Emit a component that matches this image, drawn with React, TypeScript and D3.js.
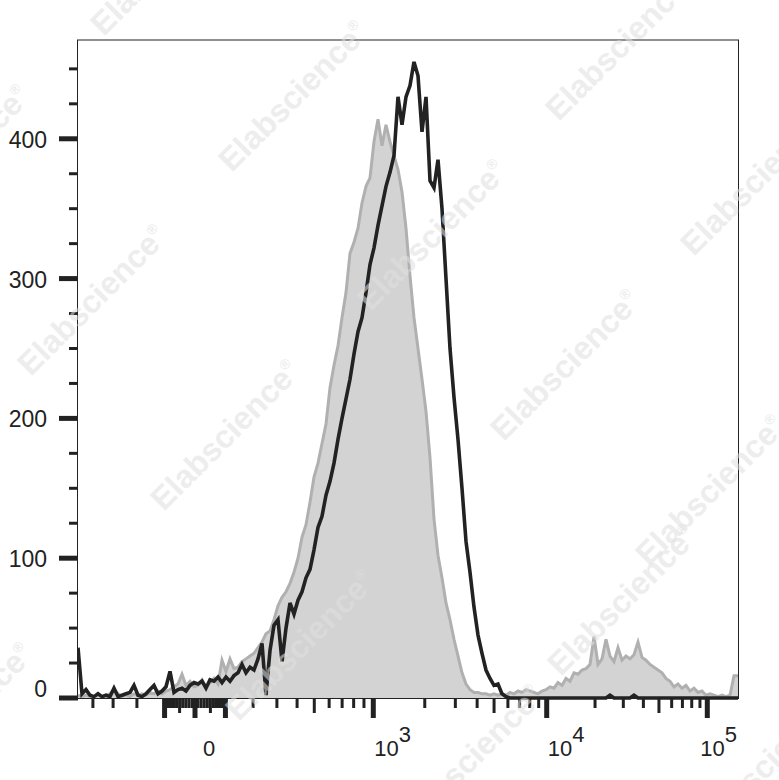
import React, { useEffect, useRef } from "react";
import * as d3 from "d3";

// counts per display channel (evenly spaced in display space, left edge to right edge)
const isotypeCounts = [
  2, 1, 2, 1, 1, 2, 1, 2, 3, 6, 3, 1, 2, 1, 3, 2, 3, 2, 4, 3,
  5, 3, 5, 6, 8, 10, 17, 9, 12, 8, 9, 13, 8, 11, 14, 10, 27, 19, 28, 21,
  22, 26, 28, 30, 32, 36, 40, 46, 48, 56, 66, 72, 76, 82, 90, 100, 115, 124, 140, 158,
  168, 182, 196, 222, 238, 252, 272, 290, 318, 326, 336, 354, 366, 372, 398, 414, 395, 410, 398, 388,
  378, 362, 336, 302, 272, 250, 228, 205, 172, 128, 102, 86, 68, 56, 42, 30, 18, 10, 6, 4,
  4, 3, 3, 2, 3, 2, 3, 2, 4, 3, 5, 4, 6, 5, 4, 3, 5, 6, 8, 7,
  11, 9, 14, 12, 18, 17, 20, 21, 24, 44, 24, 28, 42, 30, 26, 36, 27, 30, 28, 31,
  40, 29, 27, 24, 22, 20, 18, 14, 12, 8, 10, 7, 9, 5, 7, 4, 5, 2, 3, 2,
  1, 2, 1, 2, 16, 16,
];

const stainedCounts = [
  36, 3, 6, 2, 1, 3, 1, 2, 1, 7, 1, 2, 3, 4, 9, 2, 1, 3, 6, 9,
  3, 5, 8, 19, 4, 6, 7, 5, 9, 11, 10, 12, 7, 13, 12, 15, 11, 15, 12, 16,
  18, 24, 18, 22, 20, 28, 39, 2, 34, 52, 56, 26, 50, 68, 60, 70, 76, 86, 92, 106,
  122, 130, 145, 155, 168, 185, 200, 214, 228, 246, 262, 272, 290, 310, 322, 338, 352, 366, 376, 388,
  430, 410, 430, 438, 455, 445, 405, 430, 370, 365, 385, 350, 300, 250, 215, 185, 150, 112, 90, 65,
  45, 32, 20, 14, 9, 10, 3, 1, 0, 0, 0, 0, 0, 0, 0, 0, 0, 0, 0, 0,
  0, 0, 0, 0, 0, 0, 0, 0, 0, 0, 0, 0, 0, 2, 0, 0, 0, 0, 0, 2,
  0, 0, 0, 0, 0, 0, 0, 0, 0, 0, 0, 0, 0, 0, 0, 0, 0, 0, 0, 0,
  0, 0, 0, 0, 0, 0,
];

const yTickValues = d3.range(0, 451, 25);
const yLabelValues = [0, 100, 200, 300, 400];

const xLabelValues = [0, 1e3, 1e4, 1e5];
const xLabelBase = ["0", "10", "10", "10"];
const xLabelExp = ["", "3", "4", "5"];

const FONT = "'Liberation Sans', Arial, sans-serif";
const INK = "#222";

const FlowHistogram: React.FC = () => {
  const ref = useRef<SVGSVGElement>(null);

  useEffect(() => {
    if (!ref.current) return;
    const svg = d3.select(ref.current);
    svg.selectAll("*").remove();

    const left = 78,
      right = 738,
      top = 40.5,
      bottom = 698;

    // biexponential-like display: asinh near zero, decades above 10^3
    const T = (v: number) => Math.asinh(v / 300);
    const xAxis = d3
      .scaleLinear()
      .domain([T(-1e3), T(1e3), T(1e4), T(1e5)])
      .range([16.7, 373.3, 546.7, 707.3]);
    const xv = (v: number) => xAxis(T(v));

    const xBin = d3
      .scaleLinear()
      .domain([0, isotypeCounts.length - 1])
      .range([left, right]);
    const y = d3.scaleLinear().domain([0, 470.3]).range([bottom, top]);

    svg.append("rect").attr("width", 779).attr("height", 780).attr("fill", "#fff");

    svg
      .append("clipPath")
      .attr("id", "plot-clip")
      .append("rect")
      .attr("x", left)
      .attr("y", top)
      .attr("width", right - left)
      .attr("height", bottom - top + 2);

    const plot = svg.append("g").attr("clip-path", "url(#plot-clip)");

    // isotype control, filled
    const area = d3
      .area<number>()
      .x((d, i) => xBin(i))
      .y0(y(0))
      .y1((d) => y(d));
    const line = d3
      .line<number>()
      .x((d, i) => xBin(i))
      .y((d) => y(d));

    plot.append("path").datum(isotypeCounts).attr("d", area).attr("fill", "#d3d3d3");
    plot
      .append("path")
      .datum(isotypeCounts)
      .attr("d", line)
      .attr("fill", "none")
      .attr("stroke", "#b0b0b0")
      .attr("stroke-width", 3)
      .attr("stroke-linejoin", "miter");

    // stained sample, black outline
    plot
      .append("path")
      .datum(stainedCounts)
      .attr("d", line)
      .attr("fill", "none")
      .attr("stroke", INK)
      .attr("stroke-width", 3.6)
      .attr("stroke-linejoin", "miter");

    // frame
    svg
      .append("rect")
      .attr("x", left - 0.5)
      .attr("y", top - 0.5)
      .attr("width", right - left + 1)
      .attr("height", bottom - top + 1)
      .attr("fill", "none")
      .attr("stroke", INK)
      .attr("stroke-width", 1);

    // y ticks
    svg
      .append("g")
      .selectAll("line")
      .data(yTickValues)
      .enter()
      .append("line")
      .attr("x1", (d) => (d % 100 === 0 ? left - 19 : left - 9))
      .attr("x2", left)
      .attr("y1", (d) => y(d))
      .attr("y2", (d) => y(d))
      .attr("stroke", INK)
      .attr("stroke-width", (d) => (d % 100 === 0 ? 5 : 3));

    svg
      .append("g")
      .selectAll("text")
      .data(yLabelValues)
      .enter()
      .append("text")
      .attr("x", 47)
      .attr("y", (d) => y(d) + (d === 0 ? -1 : 9))
      .attr("text-anchor", "end")
      .attr("font-family", FONT)
      .attr("font-size", 23)
      .attr("fill", INK)
      .text((d) => d);

    // x ticks: 0, +/- m*10^k
    const xTicks: { v: number; kind: number }[] = [{ v: 0, kind: 2 }];
    [10, 100, 1000, 10000].forEach((dec) =>
      d3.range(1, 10).forEach((m) => {
        const kind = m === 1 && dec >= 100 ? 2 : m === 5 ? 1 : 0;
        xTicks.push({ v: m * dec, kind });
        xTicks.push({ v: -m * dec, kind });
      })
    );
    xTicks.push({ v: 1e5, kind: 2 });
    const visibleTicks = xTicks.filter((t) => xv(t.v) > left + 1 && xv(t.v) < right);

    svg
      .append("g")
      .selectAll("line")
      .data(visibleTicks)
      .enter()
      .append("line")
      .attr("x1", (d) => xv(d.v))
      .attr("x2", (d) => xv(d.v))
      .attr("y1", bottom)
      .attr("y2", (d) => bottom + [10, 15, 20][d.kind])
      .attr("stroke", INK)
      .attr("stroke-width", (d) => (d.kind === 2 ? 5 : 3));

    const labels = svg
      .append("g")
      .selectAll("text")
      .data(xLabelValues)
      .enter()
      .append("text")
      .attr("x", (d) => xv(d) + (d === 0 ? 8 : d === 1e5 ? -7 : 1))
      .attr("y", 756)
      .attr("font-family", FONT)
      .attr("font-size", 22)
      .attr("fill", INK);
    labels.append("tspan").text((d, i) => xLabelBase[i]);
    labels
      .append("tspan")
      .attr("dy", -14)
      .text((d, i) => xLabelExp[i]);

    // watermark
    const marks = [
      [165, -40], [293, 96], [620, 45], [-45, 160], [92, 300], [432, 235],
      [755, 180], [225, 435], [565, 365], [710, 490], [300, 645], [622, 600],
      [468, 760], [-42, 718], [765, 765],
    ];
    const wm = svg
      .append("g")
      .selectAll("text")
      .data(marks)
      .enter()
      .append("text")
      .attr("transform", (d) => `translate(${d[0]},${d[1]}) rotate(-45)`)
      .attr("text-anchor", "middle")
      .attr("dy", "0.35em")
      .attr("font-family", FONT)
      .attr("font-weight", "bold")
      .attr("font-size", 32)
      .attr("fill", "#e0e0e0")
      .attr("opacity", 0.55);
    wm.append("tspan").text("Elabscience");
    wm.append("tspan").attr("font-size", 14).attr("dy", -14).text("®");
  }, []);

  return <svg ref={ref} width={779} height={780} style={{ display: "block" }} />;
};

export default function App() {
  return (
    <div style={{ position: "absolute", left: 0, top: 0, width: 779, height: 780 }}>
      <FlowHistogram />
    </div>
  );
}
